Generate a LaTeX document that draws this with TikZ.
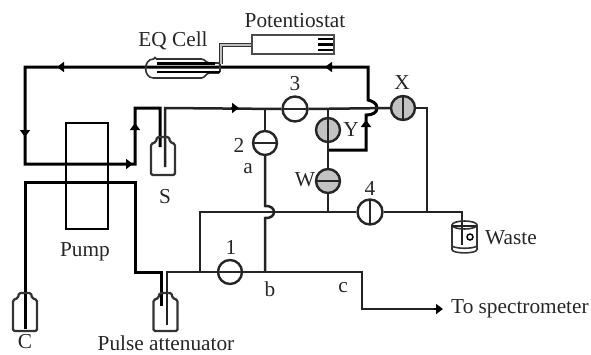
\documentclass[tikz,border=0pt]{standalone}
\usepackage{fontspec}
\setmainfont{Liberation Serif}
\usepackage{tikz}
\usetikzlibrary{arrows.meta, calc}
\definecolor{pipegray}{RGB}{35, 35, 35}
\definecolor{valvegray}{RGB}{195, 195, 195}
\tikzset{
  pipe/.style={line width=3pt, black, line join=miter},
  thinpipe/.style={line width=2.5pt, pipegray, line join=miter},
  flowmark/.style={line width=2.6pt, -{Triangle[length=7pt, width=10pt]}},
  label/.style={inner sep=0pt, font=\fontsize{21.3}{23}\selectfont, text=black!85},
  valve/.style={circle, draw=black!85, line width=2.4pt, minimum size=24pt, inner sep=0pt, fill=white},
  valveh/.style={valve, path picture={\draw[line width=2.2pt] (path picture bounding box.west) -- (path picture bounding box.east);}},
  valvev/.style={valve, path picture={\draw[line width=2.2pt] (path picture bounding box.north) -- (path picture bounding box.south);}},
  outline/.style={line width=1.6pt, black!80, rounded corners=1.5pt},
  bottle/.pic={
    \draw[outline, line width=2.3pt] (-6, 0) -- (6, 0) -- (7, 5) -- (12, 7) -- (12, 38) -- (-12, 38) -- (-12, 7) -- (-7, 5) -- cycle;
  }
}

\begin{document}
\begin{tikzpicture}[x=1pt, y=-1pt]

  \useasboundingbox (0, 0) rectangle (591, 354);

  % valves
  \node[valveh] (v1) at (230, 272) {};
  \node[valveh] (v2) at (265, 143) {};
  \node[valveh, minimum size=25pt] (v3) at (295, 109) {};
  \node[valvev, minimum size=25pt] (v4) at (370, 212) {};
  \node[valveh, fill=valvegray] (vW) at (328, 181) {};
  \node[valvev, fill=valvegray] (vX) at (403, 108) {};
  \node[valvev, fill=valvegray] (vY) at (328, 130) {};

  % top loop through the cell
  \coordinate (top) at (368, 67);
  \coordinate (left) at (25, 67);
  \coordinate (lowleft) at (25, 164);
  \coordinate (rise) at (135, 164);
  \coordinate (riseTop) at (135, 108);
  \coordinate (inS) at (160, 108);
  \coordinate (outS) at (165, 108);
  \draw[pipe] (vY.south |- 0, 150) -- (366, 150) -- (366, 115) .. controls (372, 115) and (377, 113) .. (377, 108)
    .. controls (377, 103) and (372, 101) .. (368, 100) -- (top) -- (left) -- (lowleft) -- (rise) -- (riseTop) -- (inS) -- (160, 147);
  \draw[thinpipe] (165, 167) -- (outS) -- (v3.west);
  \draw[thinpipe] (v3.east) -- (vX.west);
  \draw[thinpipe] (265, 108) -- (v2.north);
  \draw[thinpipe] (328, 108) -- (vY.north);
  \draw[thinpipe] (vY.south) -- (vW.north);
  \draw[thinpipe] (vW.south) -- (328, 212);

  % lower lines
  \coordinate (tee) at (200, 272);
  \coordinate (bypass) at (200, 212);
  \coordinate (drain) at (462, 212);
  \coordinate (sideX) at (427, 108);
  \draw[thinpipe] (vX.east) -- (sideX) -- (427, 212);
  \draw[thinpipe] (v1.west) -- (tee) -- (bypass) -- (v4.west);
  \draw[thinpipe] (v4.east) -- (drain) -- (462, 245);
  \draw[thinpipe] (v2.south) -- (265, 206) .. controls (277, 205) and (277, 219) .. (265, 218) -- (265, 272);
  \draw[pipe] (25, 329) -- (25, 182) -- (135, 182) -- (135, 272) -- (161, 272) -- (161, 306);
  \draw[thinpipe, line width=2.8pt] (167, 325) -- (167, 272) -- (v1.west);
  \draw[thinpipe, line width=2.8pt] (v1.east) -- (362, 272) -- (362, 309) -- (436, 309);
  \draw[flowmark] (434, 309) -- (443, 309);

  % flow arrows
  \draw[flowmark] (64, 67) -- (57, 67);
  \draw[flowmark] (25, 129) -- (25, 137);
  \draw[flowmark] (125, 164) -- (133, 164);
  \draw[flowmark] (135, 130) -- (135, 123);
  \draw[flowmark] (231, 108) -- (239, 108);
  \draw[flowmark] (332, 67) -- (325, 67);
  \draw[flowmark] (366, 127) -- (366, 120);

  % pump
  \draw[line width=2.8pt] (66, 123) rectangle (108, 229);

  % bottles
  \pic at (163, 137) {bottle};
  \pic at (25, 293) {bottle};
  \pic at (165.5, 293) {bottle};

  % waste beaker
  \draw[outline] (452, 225) -- (452, 248) .. controls (452, 254) and (477, 254) .. (477, 248) -- (477, 225);
  \draw[outline] (464.5, 225) ellipse (12.5 and 4);
  \draw[outline] (452, 246) .. controls (456, 249) and (473, 249) .. (477, 246);
  \draw[thinpipe, line width=1.8pt] (451, 226) -- (476, 226);
  \draw[line width=1.5pt] (470, 237) circle (3);

  % cell and potentiostat
  \draw[outline] (155, 59) -- (203, 59) -- (208, 63) -- (220, 63) -- (220, 73) -- (208, 73) -- (203, 78) -- (155, 78)
    .. controls (143, 78) and (143, 59) .. (155, 59) -- cycle;
  \draw[line width=3pt] (157, 63.5) -- (215, 63.5);
  \draw[line width=2.2pt] (157, 72) -- (220, 72);
  \draw[black!80, line width=4pt] (221, 64) -- (221, 45) -- (252, 45);
  \draw[black!25, line width=1.2pt] (221, 64) -- (221, 45) -- (252, 45);
  \draw[line width=1.5pt, black!70] (252, 35) rectangle (334, 54);
  \foreach \y in {39, 44.5, 50} {
    \draw[line width=2.6pt] (318, \y) -- (333, \y);
  }

  % texts
  \node[label] (potentiostat) at (295, 21) {Potentiostat};
  \node[label] (cell) at (173, 41) {EQ Cell};
  \node[label] (pump) at (85, 252) {Pump};
  \node[label] (s) at (165, 197) {S};
  \node[label] (c) at (25, 342) {C};
  \node[label] (pulse) at (166, 343) {Pulse attenuator};
  \node[label, anchor=west] (waste) at (485, 238) {Waste};
  \node[label, anchor=west] (spectro) at (451, 309) {To spectrometer};
  \node[label] (l1) at (231, 247) {1};
  \node[label] (l2) at (239, 145) {2};
  \node[label] (l3) at (295, 84) {3};
  \node[label] (l4) at (370, 188) {4};
  \node[label] (lW) at (305, 180) {W};
  \node[label] (lX) at (402, 83) {X};
  \node[label] (lY) at (351, 130) {Y};
  \node[label] (la) at (248, 169) {a};
  \node[label] (lb) at (270, 289) {b};
  \node[label] (lc) at (343, 288) {c};

\end{tikzpicture}
\end{document}
